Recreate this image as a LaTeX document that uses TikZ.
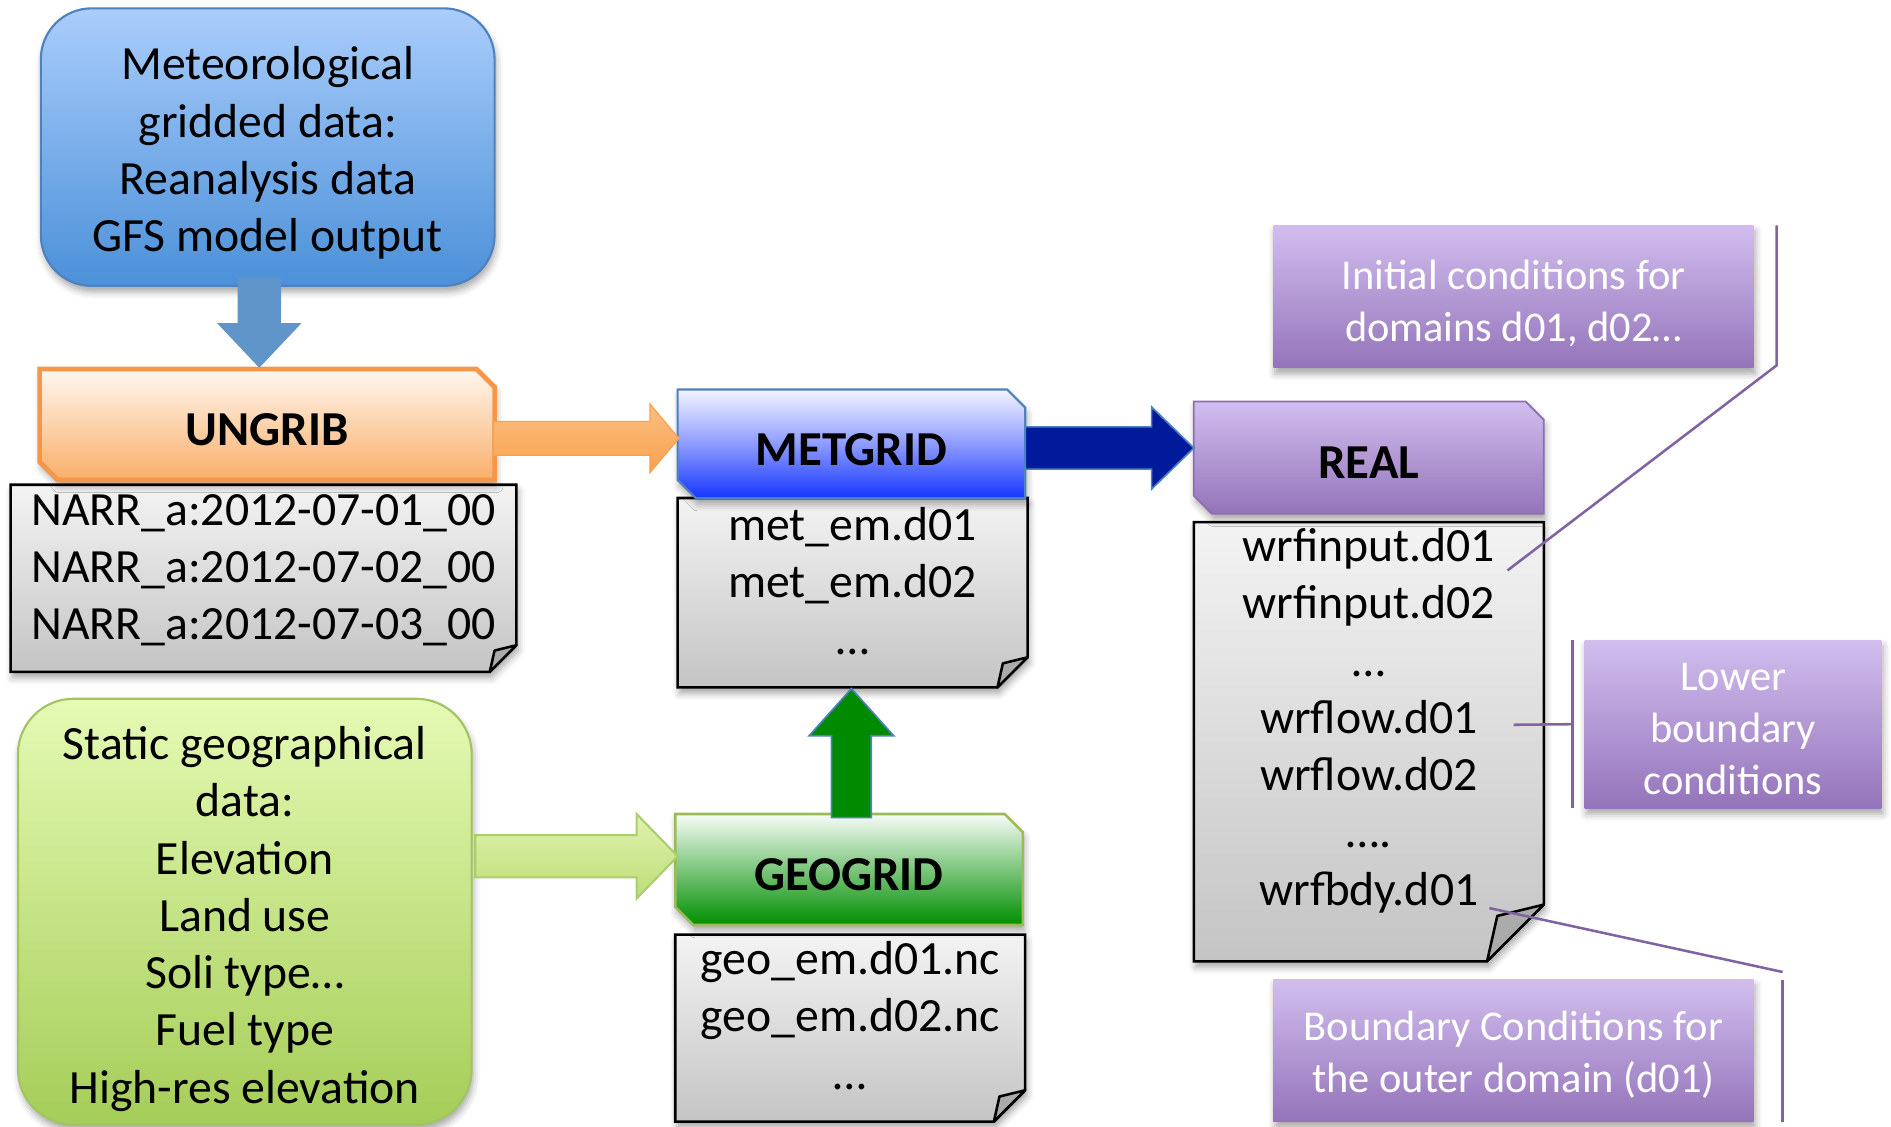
\documentclass[tikz,border=0pt]{standalone}
\usepackage{fontspec}
\setmainfont{Carlito}
\usetikzlibrary{calc,shadows.blur}

\definecolor{metTop}{HTML}{AACDFB}
\definecolor{metBot}{HTML}{4B90D8}
\definecolor{metLine}{HTML}{4F81BD}
\definecolor{downArrow}{HTML}{6095C9}
\definecolor{ungTop}{HTML}{FFF7F0}
\definecolor{ungBot}{HTML}{F9AE68}
\definecolor{ungLine}{HTML}{F79646}
\definecolor{orArrowTop}{HTML}{FBBE82}
\definecolor{orArrowBot}{HTML}{F8A24E}
\definecolor{mgTop}{HTML}{F4F4FF}
\definecolor{mgMid}{HTML}{8E9BFF}
\definecolor{mgBot}{HTML}{1536FF}
\definecolor{navyArrow}{HTML}{001A9C}
\definecolor{ggTop}{HTML}{F7FCF7}
\definecolor{ggMid}{HTML}{7CC47C}
\definecolor{ggBot}{HTML}{008F00}
\definecolor{ggLine}{HTML}{9BBB59}
\definecolor{upArrow}{HTML}{008A00}
\definecolor{stTop}{HTML}{E5FAB4}
\definecolor{stBot}{HTML}{A5CD58}
\definecolor{stLine}{HTML}{A3C462}
\definecolor{lgArrowTop}{HTML}{E0F2AE}
\definecolor{lgArrowBot}{HTML}{BEDD78}
\definecolor{lgArrowLine}{HTML}{A9CF6B}
\definecolor{rlTop}{HTML}{D1BEEE}
\definecolor{rlBot}{HTML}{9474BA}
\definecolor{rlLine}{HTML}{8C6EB3}
\definecolor{docTop}{HTML}{F3F3F3}
\definecolor{docBot}{HTML}{C4C4C4}
\definecolor{docFlap}{HTML}{ABABAB}
\definecolor{noteLine}{HTML}{8064A2}

% sheet of paper with a folded lower right corner: node name, fold size
\newcommand\docshape[2]{%
  \path[docfill] (#1.north west) -- (#1.north east) -- ($(#1.south east)+(0,-#2)$)
    -- ($(#1.south east)+(-#2,0)$) -- (#1.south west) -- cycle;
  \path[docflap] ($(#1.south east)+(0,-#2)$) -- ($(#1.south east)+(-0.82*#2,-0.8*#2)$)
    -- ($(#1.south east)+(-#2,0)$) -- cycle;
}
% box with cut upper right and lower left corners: node name, cut size, style
\newcommand\chamfershape[3]{%
  \path[#3] (#1.north west) -- ($(#1.north east)+(-#2,0)$) -- ($(#1.north east)+(0,#2)$)
    -- (#1.south east) -- ($(#1.south west)+(#2,0)$) -- ($(#1.south west)+(0,-#2)$) -- cycle;
}
% wide block arrow: style, from, to, shaft half width, head half width, head length
\newcommand\blockarrow[6]{%
  \coordinate (ba-h) at ($(#3)!#6!(#2)$);
  \path[#1] ($(#2)!#4!90:(#3)$) -- ($(ba-h)!#4!-90:(#2)$) -- ($(ba-h)!#5!-90:(#2)$)
    -- (#3) -- ($(ba-h)!#5!90:(#2)$) -- ($(ba-h)!#4!90:(#2)$) -- ($(#2)!#4!-90:(#3)$) -- cycle;
}

\begin{document}
\begin{tikzpicture}[
  x=0.01cm, y=-0.01cm,
  every node/.style={inner sep=0pt, outer sep=0pt},
  maintext/.style={font=\fontsize{11.25}{13.5}\selectfont, align=center},
  labeltext/.style={font=\fontsize{11.5}{14}\selectfont\bfseries},
  notetext/.style={font=\fontsize{10}{12.2}\selectfont, align=center, text=white},
  softshadow/.style={blur shadow={shadow xshift=0.4pt, shadow yshift=-1.4pt,
      shadow blur radius=1.6pt, shadow opacity=35}},
  metbox/.style={rectangle, rounded corners=0.42cm, draw=metLine,
      line width=0.5pt, top color=metTop, bottom color=metBot, softshadow},
  staticbox/.style={rectangle, rounded corners=0.46cm, draw=stLine,
      line width=0.5pt, top color=stTop, bottom color=stBot, softshadow},
  area/.style={rectangle},
  docfill/.style={draw=black, line width=0.6pt, top color=docTop, bottom color=docBot,
      line join=miter, softshadow},
  docflap/.style={draw=black, line width=0.6pt, fill=docFlap, line join=round},
  ungshape/.style={draw=ungLine, line width=1.1pt, top color=ungTop, bottom color=ungBot, softshadow},
  mgshape/.style={draw=metLine, line width=0.5pt, top color=mgTop, bottom color=mgBot,
      middle color=mgMid, softshadow},
  ggshape/.style={draw=ggLine, line width=0.6pt, top color=ggTop, bottom color=ggBot,
      middle color=ggMid, softshadow},
  rlshape/.style={draw=rlLine, line width=0.4pt, top color=rlTop, bottom color=rlBot, softshadow},
  notebox/.style={rectangle, top color=rlTop, bottom color=rlBot, softshadow},
  noteline/.style={draw=noteLine, line width=0.6pt},
  downarrowstyle/.style={fill=downArrow},
  orangearrow/.style={top color=orArrowTop, bottom color=orArrowBot, draw=orArrowBot, line width=0.3pt},
  navyarrow/.style={fill=navyArrow, draw=metLine, line width=0.4pt},
  greenarrow/.style={fill=upArrow, draw=metLine, line width=0.4pt},
  limearrow/.style={top color=lgArrowTop, bottom color=lgArrowBot, draw=lgArrowLine, line width=0.5pt},
]
\useasboundingbox (0,0) rectangle (1568,934);

% areas of the program stages and of the file sheets
\node[area, minimum width=3.77cm, minimum height=0.92cm] (ungrib) at (221.5,352) {};
\node[area, minimum width=2.88cm, minimum height=0.90cm] (metgrid) at (706,368) {};
\node[area, minimum width=2.88cm, minimum height=0.92cm] (geogrid) at (704,721) {};
\node[area, minimum width=2.90cm, minimum height=0.93cm] (real) at (1135,379.5) {};
\node[area, minimum width=4.19cm, minimum height=1.55cm] (narr) at (218.5,479.5) {};
\node[area, minimum width=2.90cm, minimum height=1.57cm] (metem) at (707,491.5) {};
\node[area, minimum width=2.90cm, minimum height=1.55cm] (geoem) at (705,852.5) {};
\node[area, minimum width=2.90cm, minimum height=3.64cm] (wrf) at (1135,615) {};

% file sheets, then the stage boxes over them
\docshape{narr}{22}
\docshape{metem}{25}
\docshape{geoem}{26}
\docshape{wrf}{47}
\chamfershape{ungrib}{15}{ungshape}
\chamfershape{metgrid}{15}{mgshape}
\chamfershape{geogrid}{15}{ggshape}
\chamfershape{real}{15}{rlshape}

% input data boxes
\node[metbox, minimum width=3.76cm, minimum height=2.30cm] (met) at (222,122) {};
\node[staticbox, minimum width=3.76cm, minimum height=3.53cm] (static) at (203,756) {};

% notes on the REAL outputs
\node[notebox, minimum width=3.98cm, minimum height=1.18cm] (ic) at (1255,246) {};
\node[notebox, minimum width=2.46cm, minimum height=1.39cm] (lbc) at (1437,600.5) {};
\node[notebox, minimum width=3.98cm, minimum height=1.18cm] (bc) at (1255,871) {};

% texts
\node[maintext] (mettext) at ($(met)+(0,5)$)
  {Meteorological\\gridded data:\\Reanalysis data\\GFS model output};
\node[maintext] (statictext) at ($(static)+(0,6)$)
  {Static geographical\\data:\\Elevation\\Land use\\Soli type…\\Fuel type\\High-res elevation};
\node[labeltext] (ungribtext) at ($(ungrib)+(0,4)$) {UNGRIB};
\node[labeltext] (metgridtext) at ($(metgrid)+(0,5)$) {METGRID};
\node[labeltext] (geogridtext) at ($(geogrid)+(0,4)$) {GEOGRID};
\node[labeltext] (realtext) at ($(real)+(0,4)$) {REAL};
\node[maintext] (narrtext) at (218.5,473)
  {NARR\_a:2012-07-01\_00\\NARR\_a:2012-07-02\_00\\NARR\_a:2012-07-03\_00};
\node[maintext] (metemtext) at (707,482) {met\_em.d01\\met\_em.d02\\…};
\node[maintext] (geoemtext) at (705,842) {geo\_em.d01.nc\\geo\_em.d02.nc\\…};
\node[maintext] (wrftext) at (1135,597.5)
  {wrfinput.d01\\wrfinput.d02\\…\\wrflow.d01\\wrflow.d02\\….\\wrfbdy.d01};
\node[notetext] (ictext) at ($(ic)+(0,5.5)$) {Initial conditions for\\domains d01, d02…};
\node[notetext] (lbctext) at ($(lbc)+(0,4)$) {Lower\\boundary\\conditions};
\node[notetext] (bctext) at ($(bc)+(0,3.5)$) {Boundary Conditions for\\the outer domain (d01)};

% flow arrows
\coordinate (a1s) at ($(met.south)+(-7,-7)$);
\coordinate (a1e) at ($(ungrib.north)+(-6.5,-1)$);
\blockarrow{downarrowstyle}{a1s}{a1e}{0.18cm}{0.35cm}{0.37cm}

\coordinate (a2s) at ($(ungrib.east |- metgrid.west)+(-1,-4.5)$);
\coordinate (a2e) at ($(metgrid.west)+(1,-4.5)$);
\blockarrow{orangearrow}{a2s}{a2e}{0.14cm}{0.285cm}{0.24cm}

\coordinate (a3s) at ($(metgrid.east)+(0,3.5)$);
\coordinate (a3e) at ($(real.west |- a3s)$);
\blockarrow{navyarrow}{a3s}{a3e}{0.175cm}{0.34cm}{0.35cm}

\coordinate (a4s) at ($(geogrid.north)+(2,3)$);
\coordinate (a4e) at ($(metem.south)+(-1,1)$);
\blockarrow{greenarrow}{a4s}{a4e}{0.165cm}{0.35cm}{0.39cm}

\coordinate (a5s) at ($(static.east |- geogrid.west)+(3,-11)$);
\coordinate (a5e) at ($(geogrid.west)+(2,-11)$);
\blockarrow{limearrow}{a5s}{a5e}{0.175cm}{0.35cm}{0.34cm}

% note leader lines
\coordinate (icend) at (1250,473);
\coordinate (lbcend) at (1255,601);
\coordinate (bcend) at (1235,753);
\draw[noteline] ($(ic.north east)+(19,0)$) -- ($(ic.south east)+(19,-2)$) -- (icend);
\draw[noteline] ($(lbc.north west)+(-10,0)$) -- ($(lbc.south west)+(-10,0)$);
\draw[noteline] ($(lbc.west)+(-10,0)$) -- (lbcend);
\draw[noteline] ($(bc.north east)+(24,1)$) -- ($(bc.south east)+(24,0)$);
\draw[noteline] ($(bc.north east)+(24,-6)$) -- (bcend);
\end{tikzpicture}
\end{document}
